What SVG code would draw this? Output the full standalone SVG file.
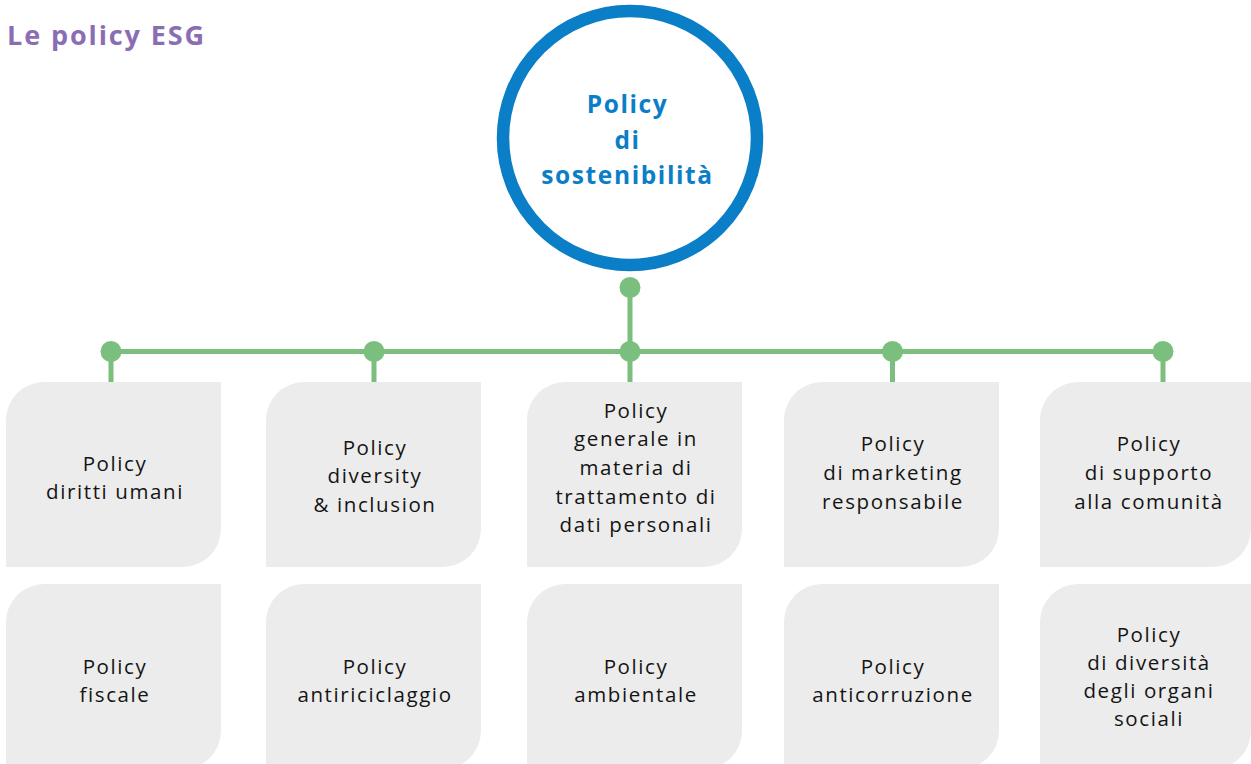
<svg xmlns="http://www.w3.org/2000/svg" width="1251" height="764" viewBox="0 0 1251 764">
  <style>
    .box { fill: #ececec; }
    .lbl { font-family: "Open Sans", "Noto Sans", sans-serif; font-size: 20.5px; letter-spacing: 1.6px; fill: #141414; text-anchor: middle; }
    .hub { font-family: "Open Sans", "Noto Sans", sans-serif; font-size: 24.5px; font-weight: bold; letter-spacing: 1.6px; fill: #0a7ec6; text-anchor: middle; }
    .title { font-family: "Open Sans", "Noto Sans", sans-serif; font-size: 27px; font-weight: bold; letter-spacing: 1.9px; fill: #8b6db4; }
    .line { stroke: #7bbf7e; stroke-width: 5; fill: none; }
    .dot { fill: #7bbf7e; }
  </style>
  <rect width="1251" height="764" fill="#ffffff"/>
  <text class="title" x="7" y="45">Le policy ESG</text>

  <g id="connectors">
    <line class="line" x1="630" y1="287" x2="630" y2="351.5"/>
    <line class="line" x1="111" y1="351.5" x2="1163" y2="351.5"/>
    <line class="line" x1="111" y1="351.5" x2="111" y2="383"/>
    <line class="line" x1="374" y1="351.5" x2="374" y2="383"/>
    <line class="line" x1="630" y1="351.5" x2="630" y2="383"/>
    <line class="line" x1="892.5" y1="351.5" x2="892.5" y2="383"/>
    <line class="line" x1="1163" y1="351.5" x2="1163" y2="383"/>
    <circle class="dot" cx="630" cy="287.5" r="10.5"/>
    <circle class="dot" cx="111" cy="351.5" r="10.5"/>
    <circle class="dot" cx="374" cy="351.5" r="10.5"/>
    <circle class="dot" cx="630" cy="351.5" r="10.5"/>
    <circle class="dot" cx="892.5" cy="351.5" r="10.5"/>
    <circle class="dot" cx="1163" cy="351.5" r="10.5"/>
  </g>

  <g id="hub">
    <circle cx="630" cy="138" r="127" fill="#ffffff" stroke="#0a7ec6" stroke-width="12.5"/>
    <text class="hub" x="627.5" y="113">Policy</text>
    <text class="hub" x="627.5" y="149">di</text>
    <text class="hub" x="627.5" y="184">sostenibilità</text>
  </g>

  <g id="n1">
    <path class="box" d="M44,382 H221 V529 A38 38 0 0 1 183,567 H6 V420 A38 38 0 0 1 44,382 Z"/>
    <text class="lbl" x="115" y="471">Policy</text>
    <text class="lbl" x="115" y="499">diritti umani</text>
  </g>
  <g id="n2">
    <path class="box" d="M304,382 H481 V529 A38 38 0 0 1 443,567 H266 V420 A38 38 0 0 1 304,382 Z"/>
    <text class="lbl" x="375" y="455">Policy</text>
    <text class="lbl" x="375" y="483">diversity</text>
    <text class="lbl" x="375" y="511.5">&amp; inclusion</text>
  </g>
  <g id="n3">
    <path class="box" d="M565,382 H742 V529 A38 38 0 0 1 704,567 H527 V420 A38 38 0 0 1 565,382 Z"/>
    <text class="lbl" x="636" y="417.5">Policy</text>
    <text class="lbl" x="636" y="446">generale in</text>
    <text class="lbl" x="636" y="474.5">materia di</text>
    <text class="lbl" x="636" y="503.5">trattamento di</text>
    <text class="lbl" x="636" y="532">dati personali</text>
  </g>
  <g id="n4">
    <path class="box" d="M822,382 H999 V529 A38 38 0 0 1 961,567 H784 V420 A38 38 0 0 1 822,382 Z"/>
    <text class="lbl" x="893" y="450.5">Policy</text>
    <text class="lbl" x="893" y="479.5">di marketing</text>
    <text class="lbl" x="893" y="508.5">responsabile</text>
  </g>
  <g id="n5">
    <path class="box" d="M1078,382 H1251 V529 A38 38 0 0 1 1213,567 H1040 V420 A38 38 0 0 1 1078,382 Z"/>
    <text class="lbl" x="1149" y="450.5">Policy</text>
    <text class="lbl" x="1149" y="479.5">di supporto</text>
    <text class="lbl" x="1149" y="508.5">alla comunità</text>
  </g>

  <g id="n6">
    <path class="box" d="M44,584 H221 V731 A38 38 0 0 1 183,769 H6 V622 A38 38 0 0 1 44,584 Z"/>
    <text class="lbl" x="115" y="673.5">Policy</text>
    <text class="lbl" x="115" y="701.5">fiscale</text>
  </g>
  <g id="n7">
    <path class="box" d="M304,584 H481 V731 A38 38 0 0 1 443,769 H266 V622 A38 38 0 0 1 304,584 Z"/>
    <text class="lbl" x="375" y="673.5">Policy</text>
    <text class="lbl" x="375" y="701.5">antiriciclaggio</text>
  </g>
  <g id="n8">
    <path class="box" d="M565,584 H742 V731 A38 38 0 0 1 704,769 H527 V622 A38 38 0 0 1 565,584 Z"/>
    <text class="lbl" x="636" y="673.5">Policy</text>
    <text class="lbl" x="636" y="701.5">ambientale</text>
  </g>
  <g id="n9">
    <path class="box" d="M822,584 H999 V731 A38 38 0 0 1 961,769 H784 V622 A38 38 0 0 1 822,584 Z"/>
    <text class="lbl" x="893" y="673.5">Policy</text>
    <text class="lbl" x="893" y="701.5">anticorruzione</text>
  </g>
  <g id="n10">
    <path class="box" d="M1078,584 H1251 V731 A38 38 0 0 1 1213,769 H1040 V622 A38 38 0 0 1 1078,584 Z"/>
    <text class="lbl" x="1149" y="641.5">Policy</text>
    <text class="lbl" x="1149" y="669.5">di diversità</text>
    <text class="lbl" x="1149" y="697.5">degli organi</text>
    <text class="lbl" x="1149" y="725.5">sociali</text>
  </g>
</svg>
